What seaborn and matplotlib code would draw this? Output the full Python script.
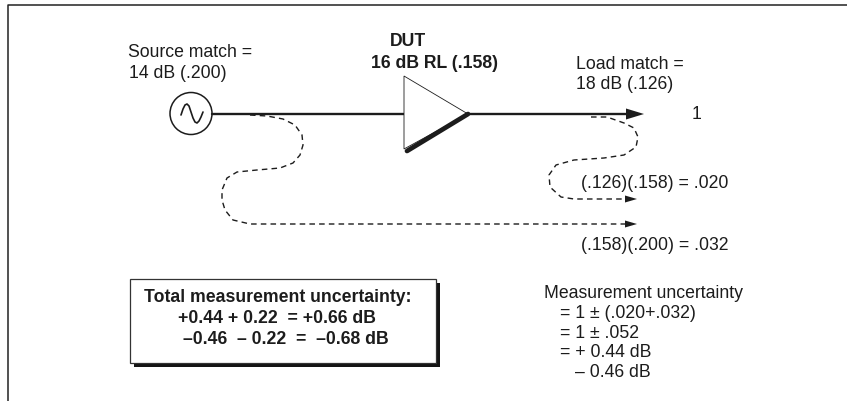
import matplotlib
matplotlib.use("Agg")
import matplotlib.pyplot as plt
from matplotlib.patches import Circle, Rectangle
import seaborn as sns

signal_x = [212, 405, 468, 628]
signal_y = [114, 114, 114, 114]

amp_x = [404, 404, 468]
amp_y = [76, 149, 114]
amp_edge_x = [407, 468]
amp_edge_y = [151, 114]

sine_x = [181, 183, 185, 187, 189, 191, 193, 195, 197, 199, 201, 203]
sine_y = [115, 109, 105, 104, 106, 112, 118, 122, 123, 121, 117, 112]

source_refl_x = [250, 267, 283, 295, 302, 303, 300, 293, 280, 257, 237, 227, 222, 222, 225, 233, 250, 628]
source_refl_y = [115, 116, 119, 125, 135, 145, 155, 163, 168, 170, 172, 178, 190, 200, 210, 220, 224, 224]

load_refl_x = [591, 607, 624, 634, 638, 636, 624, 604, 574, 556, 549, 550, 561, 574, 628]
load_refl_y = [117, 117, 123, 128, 137, 147, 155, 158, 160, 165, 175, 187, 197, 199, 199]

plain_labels = [
    ("Source match =", 128.5, 57),
    ("14 dB (.200)", 129, 78),
    ("Load match =", 576, 69),
    ("18 dB (.126)", 576.5, 89),
    ("1", 692, 119),
    ("(.126)(.158) = .020", 581, 188),
    ("(.158)(.200) = .032", 581, 250),
    ("Measurement uncertainty", 544.5, 298),
    ("= 1 ± (.020+.032)", 560, 318),
    ("= 1 ± .052", 560, 338),
    ("= + 0.44 dB", 560, 357),
    ("– 0.46 dB", 575, 377),
]
bold_labels = [
    ("DUT", 390, 46),
    ("16 dB RL (.158)", 371, 68),
    ("Total measurement uncertainty:", 144, 302),
    ("+0.44 + 0.22  = +0.66 dB", 178, 323),
    ("–0.46  – 0.22  =  –0.68 dB", 183, 344),
]

sns.set_theme(style="white")
plt.rcParams["font.family"] = ["Liberation Sans", "DejaVu Sans"]
ink = "#1c1c1c"

fig, ax = plt.subplots(figsize=(8.47, 4.01), dpi=100)
ax.set_position([0, 0, 1, 1])
ax.set_xlim(0, 847)
ax.set_ylim(401, 0)
ax.axis("off")

# page frame, open on the right and the bottom
ax.plot([847, 8, 8], [4.5, 4.5, 401], color="#222222", lw=1.1)

# source
ax.add_patch(Circle((191, 113.5), 21, fill=False, ec=ink, lw=1.1))
sns.lineplot(x=sine_x, y=sine_y, sort=False, estimator=None, color=ink, lw=1.2, ax=ax)

# main signal path
sns.lineplot(x=signal_x, y=signal_y, sort=False, estimator=None, color=ink, lw=1.7, ax=ax)
ax.fill([626, 644, 626], [108.5, 114, 119.5], color=ink, lw=0)

# amplifier
ax.fill(amp_x, amp_y, fc="white", ec=ink, lw=0.6, zorder=3)
sns.lineplot(x=amp_edge_x, y=amp_edge_y, sort=False, estimator=None, color=ink, lw=3.4, ax=ax, zorder=4)

# reflections
for xs, ys in [(source_refl_x, source_refl_y), (load_refl_x, load_refl_y)]:
    sns.lineplot(x=xs, y=ys, sort=False, estimator=None, color=ink, lw=1.0,
                 linestyle=(0, (4, 3)), ax=ax)
    ax.fill([625, 637, 625], [ys[-1] - 3.5, ys[-1], ys[-1] + 3.5], color=ink, lw=0)

# summary box with its shadow
ax.add_patch(Rectangle((134, 283), 306, 84, fc="#141414", ec="none"))
ax.add_patch(Rectangle((129.5, 278.5), 306, 84, fc="white", ec="#333333", lw=0.9))

for label, x, y in plain_labels:
    ax.text(x, y, label, fontsize=12.7, color=ink, va="baseline", ha="left")
for label, x, y in bold_labels:
    ax.text(x, y, label, fontsize=12.7, color=ink, va="baseline", ha="left", fontweight="bold")

fig.savefig("out.png", dpi=100)
